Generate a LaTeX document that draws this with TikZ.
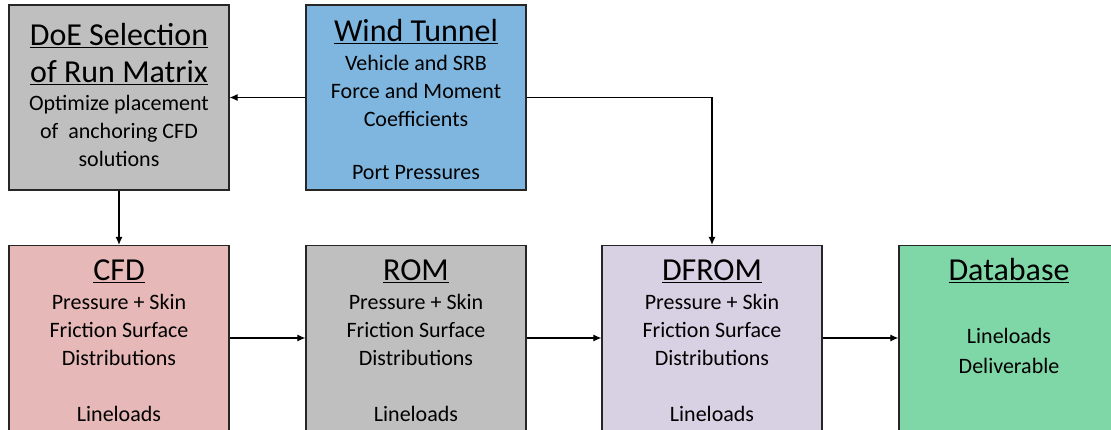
\documentclass[tikz,border=0pt]{standalone}
\usepackage{fontspec}
\setmainfont{Carlito}
\usetikzlibrary{arrows.meta}
\definecolor{doegray}{RGB}{191,191,191}
\definecolor{windblue}{RGB}{127,182,223}
\definecolor{cfdpink}{RGB}{230,184,183}
\definecolor{dfromlilac}{RGB}{216,208,227}
\definecolor{dbgreen}{RGB}{127,214,166}
\begin{document}
\begin{tikzpicture}
    [x=1pt,y=-1pt,
     box/.style={draw=black!85,line width=1.3pt,minimum width=220pt,minimum height=185pt,inner sep=0pt},
     title/.style={anchor=north,inner sep=0pt,align=center,font=\fontsize{32}{37}\selectfont},
     body/.style={anchor=north,inner sep=0pt,align=center,font=\fontsize{22}{28}\selectfont},
     flow/.style={line width=1.1pt,-{Latex[length=8pt,width=7pt]}}]
    \useasboundingbox (0,0) rectangle (1111,429);
    \node[box,fill=doegray] (doe) at (119,97.5) {};
    \node[box,fill=windblue] (wind) at (416,97.5) {};
    \node[box,fill=cfdpink] (cfd) at (119,338) {};
    \node[box,fill=doegray] (rom) at (416,338) {};
    \node[box,fill=dfromlilac] (dfrom) at (712,338) {};
    \node[box,fill=dbgreen] (db) at (1009,338) {};
    \node[title] (doe-t) at (119,19.1) {\strut\underline{DoE Selection}\\\underline{of Run Matrix}};
    \node[body] (doe-b) at (119,90.4) {\strut Optimize placement\\of~ anchoring CFD\\solutions};
    \node[title] (wind-t) at (416,15.1) {\strut\underline{Wind Tunnel}};
    \node[body] (wind-b) at (416,50.5) {\strut Vehicle and SRB\\Force and Moment\\Coefficients\\[25pt]Port Pressures};
    \node[title] (cfd-t) at (119,254.1) {\strut\underline{CFD}};
    \node[body] (cfd-b) at (119,289.4) {\strut Pressure + Skin\\Friction Surface\\Distributions\\[28pt]Lineloads};
    \node[title] (rom-t) at (416,254.1) {\strut\underline{ROM}};
    \node[body] (rom-b) at (416,289.4) {\strut Pressure + Skin\\Friction Surface\\Distributions\\[28pt]Lineloads};
    \node[title] (dfrom-t) at (712,254.1) {\strut\underline{DFROM}};
    \node[body] (dfrom-b) at (712,289.4) {\strut Pressure + Skin\\Friction Surface\\Distributions\\[28pt]Lineloads};
    \node[title] (db-t) at (1009,254.1) {\strut\underline{Database}};
    \node[body] (db-b) at (1009,323.4) {\strut Lineloads\\[2pt]Deliverable};
    \draw[flow] (wind) -- (doe);
    \draw[flow] (wind) -| (dfrom);
    \draw[flow] (doe) -- (cfd);
    \draw[flow] (cfd) -- (rom);
    \draw[flow] (rom) -- (dfrom);
    \draw[flow] (dfrom) -- (db);
\end{tikzpicture}
\end{document}
